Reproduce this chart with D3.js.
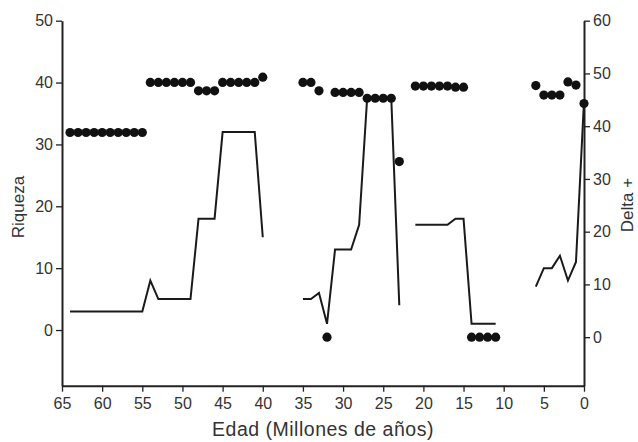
<!DOCTYPE html>
<html>
<head>
<meta charset="utf-8">
<title>Riqueza y Delta +</title>
<script src="https://cdnjs.cloudflare.com/ajax/libs/d3/7.8.5/d3.min.js"></script>
<style>
    body { margin: 0; background: #fff; }
    svg text { font-family: "Liberation Sans", Arial, sans-serif; fill: #333; }
</style>
</head>
<body>
<div id="chart"></div>
<script>
// Riqueza (linea, eje izquierdo); null = hueco en la serie
const riqAge   = [64, 55, 54, 53, 49, 48, 46, 45, 41, 40, null,
                  35, 34, 33, 32, 31, 29, 28, 27, 24, 23, null,
                  21, 17, 16, 15, 14, 11, null,
                  6, 5, 4, 3, 2, 1, 0];
const riqValue = [3, 3, 8, 5, 5, 18, 18, 32, 32, 15, null,
                  5, 5, 6, 1, 13, 13, 17, 37.5, 37.5, 4, null,
                  17, 17, 18, 18, 1, 1, null,
                  7, 10, 10, 12, 8, 11, 37];

// Delta + (puntos, eje derecho)
const deltaAge   = [64, 63, 62, 61, 60, 59, 58, 57, 56, 55,
                    54, 53, 52, 51, 50, 49, 48, 47, 46,
                    45, 44, 43, 42, 41, 40,
                    35, 34, 33, 32, 31, 30, 29, 28, 27, 26, 25, 24, 23,
                    21, 20, 19, 18, 17, 16, 15, 14, 13, 12, 11,
                    6, 5, 4, 3, 2, 1, 0];
const deltaValue = [38.8, 38.8, 38.8, 38.8, 38.8, 38.8, 38.8, 38.8, 38.8, 38.8,
                    48.3, 48.3, 48.3, 48.3, 48.3, 48.3, 46.7, 46.7, 46.7,
                    48.3, 48.3, 48.3, 48.3, 48.3, 49.3,
                    48.3, 48.3, 46.7, 0, 46.4, 46.4, 46.4, 46.4, 45.3, 45.3, 45.3, 45.3, 33.3,
                    47.6, 47.6, 47.6, 47.6, 47.6, 47.4, 47.4, 0, 0, 0, 0,
                    47.7, 45.9, 45.9, 45.9, 48.4, 47.8, 44.3];

const xTicks = [65, 60, 55, 50, 45, 40, 35, 30, 25, 20, 15, 10, 5, 0];
const yLeftTicks = [0, 10, 20, 30, 40, 50];
const yRightTicks = [0, 10, 20, 30, 40, 50, 60];

const W = 638, H = 442;
const margin = {top: 20.7, right: 54, bottom: 56.3, left: 62};

const svg = d3.select("#chart").append("svg")
    .attr("width", W).attr("height", H);

const x = d3.scaleLinear().domain([65, 0]).range([margin.left, W - margin.right]);
const yL = d3.scaleLinear().domain([-9, 50]).range([H - margin.bottom, margin.top]);
const yR = d3.scaleLinear().domain([-9.2, 60]).range([H - margin.bottom, margin.top]);

// axes
const axisStyle = g => {
    g.select(".domain").attr("stroke", "#222").attr("stroke-width", 2);
    g.selectAll(".tick line").attr("stroke", "#222").attr("stroke-width", 1.3);
    g.selectAll(".tick text").style("font-size", "16px").attr("fill", "#333");
};

svg.append("g")
    .attr("transform", `translate(0,${H - margin.bottom})`)
    .call(d3.axisBottom(x).tickValues(xTicks).tickSize(6).tickSizeOuter(0).tickPadding(6))
    .call(axisStyle);

svg.append("g")
    .attr("transform", `translate(${margin.left},0)`)
    .call(d3.axisLeft(yL).tickValues(yLeftTicks).tickSize(6).tickSizeOuter(0).tickPadding(3))
    .call(axisStyle);

svg.append("g")
    .attr("transform", `translate(${W - margin.right},0)`)
    .call(d3.axisRight(yR).tickValues(yRightTicks).tickSize(6).tickSizeOuter(0).tickPadding(3))
    .call(axisStyle);

// Riqueza line
const riq = riqAge.map((a, i) => ({age: a, v: riqValue[i]}));
const line = d3.line()
    .defined(d => d.age !== null && d.v !== null)
    .x(d => x(d.age))
    .y(d => yL(d.v));

svg.append("path")
    .datum(riq)
    .attr("fill", "none")
    .attr("stroke", "#1a1a1a")
    .attr("stroke-width", 2)
    .attr("stroke-linejoin", "miter")
    .attr("d", line);

// Delta + dots
svg.append("g").selectAll("circle")
    .data(deltaAge.map((a, i) => ({age: a, v: deltaValue[i]})))
    .enter().append("circle")
    .attr("cx", d => x(d.age))
    .attr("cy", d => yR(d.v))
    .attr("r", 4.6)
    .attr("fill", "#111");

// titles
svg.append("text")
    .attr("x", (margin.left + W - margin.right) / 2)
    .attr("y", 436)
    .attr("text-anchor", "middle")
    .style("font-size", "19.5px")
    .style("letter-spacing", "0.5px")
    .text("Edad (Millones de años)");

svg.append("text")
    .attr("transform", "translate(24,207) rotate(-90)")
    .attr("text-anchor", "middle")
    .style("font-size", "17px")
    .text("Riqueza");

svg.append("text")
    .attr("transform", "translate(633,205) rotate(-90)")
    .attr("text-anchor", "middle")
    .style("font-size", "17px")
    .text("Delta +");
</script>
</body>
</html>
